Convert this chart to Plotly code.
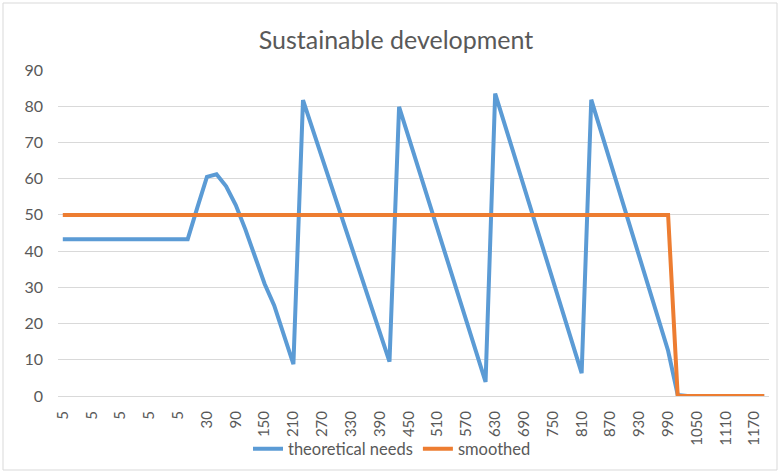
import plotly.graph_objects as go

# Category labels (one per data point)
categories = [5, 5, 5, 5, 5, 5, 5, 5, 5, 5, 5, 5, 5, 5, 10,
              30, 50, 70, 90, 110, 130, 150, 170, 190, 210, 230, 250, 270, 290,
              310, 330, 350, 370, 390, 410, 430, 450, 470, 490, 510, 530, 550,
              570, 590, 610, 630, 650, 670, 690, 710, 730, 750, 770, 790, 810,
              830, 850, 870, 890, 910, 930, 950, 970, 990, 1010, 1030, 1050,
              1070, 1090, 1110, 1130, 1150, 1170, 1190]

theoretical_needs = [43.3, 43.3, 43.3, 43.3, 43.3, 43.3, 43.3, 43.3, 43.3, 43.3,
                     43.3, 43.3, 43.3, 43.3, 52.0,
                     60.5, 61.2, 57.9, 52.7, 46.0, 38.5, 31.0, 25.0, 17.0, 8.8,
                     81.7, 73.7, 65.7, 57.6, 49.6, 41.6, 33.6, 25.6, 17.5, 9.5,
                     79.8, 71.4, 62.9, 54.5, 46.1, 37.6, 29.2, 20.8, 12.3, 3.9,
                     83.5, 74.9, 66.3, 57.7, 49.2, 40.6, 32.0, 23.4, 14.9, 6.3,
                     81.8, 73.1, 64.5, 55.8, 47.2, 38.5, 29.8, 21.2, 12.5,
                     0.3, 0, 0, 0, 0, 0, 0, 0, 0, 0]

smoothed = [50] * 64 + [0] * 10

y_ticks = [0, 10, 20, 30, 40, 50, 60, 70, 80, 90]

idx = list(range(len(categories)))
tick_idx = idx[::3]
tick_txt = [str(categories[i]) for i in tick_idx]

FONT = "Lato"
GREY = "#595959"

fig = go.Figure()
fig.add_trace(go.Scatter(x=idx, y=theoretical_needs, mode="lines",
                         name="theoretical needs",
                         line=dict(color="#5B9BD5", width=4)))
fig.add_trace(go.Scatter(x=idx, y=smoothed, mode="lines", name="smoothed",
                         line=dict(color="#ED7D31", width=4)))

W, H = 780, 473
L, R, T, B = 58, 11, 70, 77
pw, ph = W - L - R, H - T - B

def px2paper_x(px):
    return (px - L) / pw

def px2paper_y(py):
    return (H - B - py) / ph

fig.update_layout(
    width=W, height=H,
    margin=dict(l=L, r=R, t=T, b=B, autoexpand=False),
    paper_bgcolor="white", plot_bgcolor="white",
    font=dict(family=FONT, color=GREY),
    title=dict(text="Sustainable development", x=396 / W, xanchor="center",
               xref="container", y=1 - 40 / H, yanchor="middle", yref="container",
               font=dict(size=25, color=GREY, family=FONT)),
    xaxis=dict(range=[-0.5, len(categories) - 0.5], tickmode="array",
               tickvals=tick_idx, ticktext=tick_txt, tickangle=-90,
               showgrid=False, zeroline=False, showline=True,
               linecolor="#d9d9d9", linewidth=1, ticks="",
               ticklabelstandoff=8, automargin=False,
               tickfont=dict(size=15, color=GREY, family=FONT)),
    yaxis=dict(range=[0, 90], tickmode="array", tickvals=y_ticks,
               showgrid=True, gridcolor="#d9d9d9", gridwidth=1,
               zeroline=False, showline=False, ticks="",
               ticklabelstandoff=14, automargin=False,
               tickfont=dict(size=16, color=GREY, family=FONT)),
    legend=dict(orientation="h", x=392 / W, xanchor="center", xref="container",
                y=1 - 449 / H, yanchor="middle", yref="container",
                font=dict(size=16.5, color=GREY, family=FONT),
                bgcolor="rgba(0,0,0,0)"),
    showlegend=True,
    shapes=[dict(type="rect", xref="paper", yref="paper",
                 x0=px2paper_x(3), x1=px2paper_x(777),
                 y0=px2paper_y(470), y1=px2paper_y(3),
                 line=dict(color="#d9d9d9", width=1), layer="below")],
)

fig.write_html("out.html",
               config={"displayModeBar": False},
               post_script="document.body.style.margin='0';"
                           "document.body.style.overflow='hidden';")
